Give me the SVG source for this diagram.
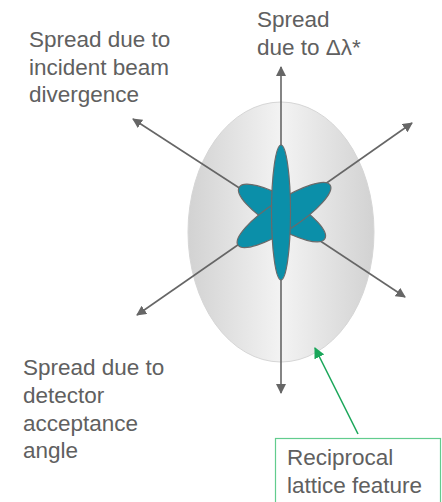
<svg xmlns="http://www.w3.org/2000/svg" width="442" height="502" viewBox="0 0 442 502">
<style>
.t{font-family:"Liberation Sans",Arial,sans-serif;font-size:22.5px;fill:#606060}
.ax{stroke:#666;stroke-width:1.6;fill:none;marker-end:url(#ah)}
.petal{fill:#0b8fa9;stroke:#6a6a6a;stroke-width:1.2}
</style>
<defs>
<linearGradient id="eg" x1="0" y1="0" x2="1" y2="0">
<stop offset="0" stop-color="#d2d2d2"/>
<stop offset="0.5" stop-color="#f3f3f3"/>
<stop offset="1" stop-color="#d2d2d2"/>
</linearGradient>
<marker id="ah" viewBox="0 0 10 10" refX="9" refY="5" markerWidth="10" markerHeight="10" markerUnits="userSpaceOnUse" orient="auto">
<path d="M0,0 L10,5 L0,10 z" fill="#666"/>
</marker>
<marker id="gh" viewBox="0 0 10 10" refX="9" refY="5" markerWidth="11" markerHeight="11" markerUnits="userSpaceOnUse" orient="auto">
<path d="M0,0 L10,5 L0,10 z" fill="#1aa65a"/>
</marker>
</defs>
<g id="feature">
<ellipse cx="281" cy="232" rx="93" ry="130" fill="url(#eg)" stroke="#d6d6d6" stroke-width="1"/>
</g>
<g id="connectors">
<line class="ax" x1="281" y1="214" x2="281" y2="67"/>
<line class="ax" x1="281" y1="214" x2="281" y2="393"/>
<line class="ax" x1="281" y1="215" x2="133" y2="119"/>
<line class="ax" x1="281" y1="215" x2="405" y2="297"/>
<line class="ax" x1="281" y1="215" x2="137" y2="315"/>
<line class="ax" x1="281" y1="215" x2="412" y2="123"/>
<line x1="358" y1="434" x2="315" y2="348" stroke="#1aa65a" stroke-width="1.6" marker-end="url(#gh)"/>
</g>
<g id="spot">
<ellipse class="petal" cx="0" cy="0" rx="50" ry="15" transform="translate(282,213) rotate(31)"/>
<ellipse class="petal" cx="0" cy="0" rx="55" ry="15" transform="translate(284,215) rotate(-33)"/>
<ellipse class="petal" cx="281" cy="212.5" rx="9.5" ry="67.5"/>
</g>
<g id="label-top">
<text class="t" x="257" y="27">Spread</text>
<text class="t" x="257" y="55">due to Δλ*</text>
</g>
<g id="label-incident">
<text class="t" x="29" y="47">Spread due to</text>
<text class="t" x="29" y="75">incident beam</text>
<text class="t" x="29" y="102">divergence</text>
</g>
<g id="label-detector">
<text class="t" x="23" y="375">Spread due to</text>
<text class="t" x="23" y="403">detector</text>
<text class="t" x="23" y="431">acceptance</text>
<text class="t" x="23" y="458">angle</text>
</g>
<g id="label-feature">
<rect x="275.5" y="438.5" width="165" height="70" fill="none" stroke="#62cc8e" stroke-width="1.2"/>
<text class="t" x="287" y="465">Reciprocal</text>
<text class="t" x="287" y="493">lattice feature</text>
</g>
</svg>
